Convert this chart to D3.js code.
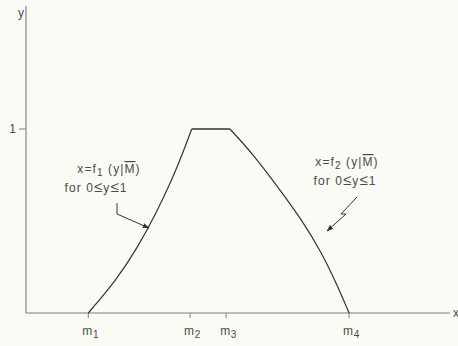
<!DOCTYPE html>
<html>
<head>
<meta charset="utf-8">
<script src="https://cdn.jsdelivr.net/npm/d3@7"></script>
<style>
  html, body { margin: 0; padding: 0; background: #fbfbf6; }
  svg { display: block; }
  text { font-family: "Liberation Sans", Arial, sans-serif; fill: #4a4a4a; }
</style>
</head>
<body>
<svg id="chart" width="458" height="346"></svg>
<script>
// Trapezoidal membership function: abscissa positions of the break points
const breakLabels = ["1", "2", "3", "4"];
const breakValues = [14.7, 38.7, 47.2, 76.2];

// Rising branch x = f1(y|M) sampled along y
const leftY = [0, 0.179, 0.359, 0.543, 0.723, 0.859, 1];
const leftX = [14.7, 21.3, 26.4, 30.7, 34.4, 36.8, 39.1];

// Falling branch x = f2(y|M) sampled along y
const rightY = [1, 0.870, 0.685, 0.505, 0.326, 0.141, 0];
const rightX = [48.1, 53.3, 59.4, 65.1, 69.8, 73.6, 76.2];

// Plateau at membership 1
const plateauX = [39.1, 48.1];
const plateauY = [1, 1];

// Axis extents and the single y tick
const xExtent = [0, 100];
const yExtent = [0, 1.67];
const yTicks = [1];

const svg = d3.select("#chart");
const x = d3.scaleLinear().domain([0, 100]).range([26, 450]);
const y = d3.scaleLinear().domain([0, 1]).range([313, 129]);

const axisColor = "#7f7890";
const inkColor = "#333";

// Axes
svg.append("line")
  .attr("x1", x(xExtent[0])).attr("x2", x(xExtent[1]))
  .attr("y1", y(0)).attr("y2", y(0))
  .attr("stroke", axisColor).attr("stroke-width", 1.1);
svg.append("line")
  .attr("x1", x(0)).attr("x2", x(0))
  .attr("y1", y(yExtent[0])).attr("y2", y(yExtent[1]))
  .attr("stroke", axisColor).attr("stroke-width", 1.1);

svg.append("text").attr("x", x(xExtent[1]) + 3).attr("y", y(0) + 4)
  .attr("font-size", 12).text("x");
svg.append("text").attr("x", x(0) - 5).attr("y", y(yExtent[1]) + 11)
  .attr("font-size", 12).attr("text-anchor", "middle").text("y");

// y tick
yTicks.forEach(t => {
  svg.append("line")
    .attr("x1", x(0) - 7).attr("x2", x(0))
    .attr("y1", y(t)).attr("y2", y(t))
    .attr("stroke", axisColor).attr("stroke-width", 1);
  svg.append("text").attr("x", x(0) - 10).attr("y", y(t) + 4)
    .attr("font-size", 12).attr("text-anchor", "end").text(t);
});

// x ticks m1..m4
breakValues.forEach((v, i) => {
  svg.append("line")
    .attr("x1", x(v)).attr("x2", x(v))
    .attr("y1", y(0)).attr("y2", y(0) + 5)
    .attr("stroke", axisColor).attr("stroke-width", 1);
  const t = svg.append("text").attr("x", x(v) - 6).attr("y", y(0) + 22)
    .attr("font-size", 12).attr("letter-spacing", 0.6);
  t.append("tspan").text("m");
  t.append("tspan").attr("dy", 3).attr("font-size", 10).text(breakLabels[i]);
});

// Membership curve
const line = d3.line()
  .x(d => x(d[0])).y(d => y(d[1]))
  .curve(d3.curveBasis);

svg.append("path")
  .datum(leftX.map((v, i) => [v, leftY[i]]))
  .attr("d", line).attr("fill", "none")
  .attr("stroke", inkColor).attr("stroke-width", 1.2);
svg.append("path")
  .datum(rightX.map((v, i) => [v, rightY[i]]))
  .attr("d", line).attr("fill", "none")
  .attr("stroke", inkColor).attr("stroke-width", 1.2);
svg.append("path")
  .datum(plateauX.map((v, i) => [v, plateauY[i]]))
  .attr("d", d3.line().x(d => x(d[0])).y(d => y(d[1])))
  .attr("fill", "none").attr("stroke", inkColor).attr("stroke-width", 1.4);

// Annotation text
function label(cx, cy, sub, dx2) {
  const t1 = svg.append("text").attr("x", cx).attr("y", cy)
    .attr("font-size", 12).attr("letter-spacing", 1.1)
    .attr("text-anchor", "middle");
  t1.append("tspan").text("x=f");
  t1.append("tspan").attr("dy", 3).attr("font-size", 10).text(sub);
  t1.append("tspan").attr("dy", -3).text(" (y|");
  t1.append("tspan").style("text-decoration", "overline").text("M");
  t1.append("tspan").text(")");
  const t2 = svg.append("text").attr("x", cx + dx2).attr("y", cy + 19)
    .attr("font-size", 12).attr("letter-spacing", 1.1)
    .attr("text-anchor", "middle");
  t2.append("tspan").text("for 0");
  t2.append("tspan").attr("font-size", 15).text("\u2264");
  t2.append("tspan").text("y");
  t2.append("tspan").attr("font-size", 15).text("\u2264");
  t2.append("tspan").text("1");
}
label(109, 173, "1", -13);
label(347, 166, "2", -2);

// Arrow head marker
svg.append("defs").append("marker")
  .attr("id", "head").attr("viewBox", "0 0 10 10")
  .attr("refX", 9).attr("refY", 5)
  .attr("markerWidth", 7).attr("markerHeight", 7)
  .attr("orient", "auto")
  .append("path").attr("d", "M0,1.5 L10,5 L0,8.5 Z").attr("fill", inkColor);

// Left pointer: short drop then diagonal to the curve
svg.append("path")
  .attr("d", d3.line()([[117, 203], [117, 214], [149, 228]]))
  .attr("fill", "none").attr("stroke", inkColor).attr("stroke-width", 1)
  .attr("marker-end", "url(#head)");

// Right pointer: zig-zag toward the curve
svg.append("path")
  .attr("d", d3.line()([[357, 197], [341, 214], [346, 214], [327, 231]]))
  .attr("fill", "none").attr("stroke", inkColor).attr("stroke-width", 1)
  .attr("marker-end", "url(#head)");
</script>
</body>
</html>
